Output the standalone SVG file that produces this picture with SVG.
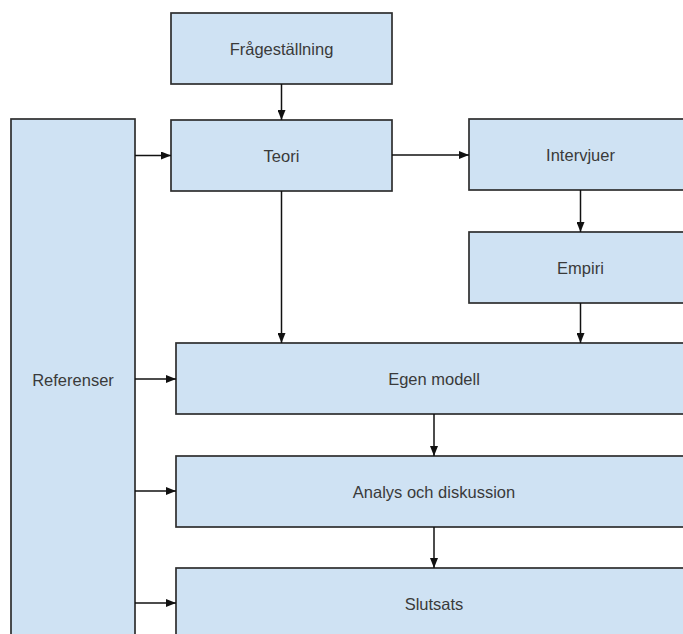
<svg xmlns="http://www.w3.org/2000/svg" width="683" height="634" viewBox="0 0 683 634">
  <style>
    .box { fill: #cfe2f3; stroke: #2e2e2e; stroke-width: 1.7; }
    .label { font-family: "Liberation Sans", Arial, sans-serif; font-size: 16.5px; fill: #3a3a3a; text-anchor: middle; dominant-baseline: central; }
    .link { fill: none; stroke: #111111; stroke-width: 1.5; marker-end: url(#arrow); }
  </style>
  <defs>
    <marker id="arrow" markerUnits="userSpaceOnUse" markerWidth="10" markerHeight="8" refX="10" refY="4" orient="auto">
      <path d="M0,0 L10,4 L0,8 z" fill="#111111"/>
    </marker>
  </defs>
  <rect width="683" height="634" fill="#ffffff"/>

  <g id="fragestallning">
    <rect class="box" x="171" y="13" width="221" height="71"/>
    <text class="label" x="281.5" y="49">Frågeställning</text>
  </g>
  <g id="teori">
    <rect class="box" x="171" y="120" width="221" height="71"/>
    <text class="label" x="281.5" y="155.5">Teori</text>
  </g>
  <g id="intervjuer">
    <rect class="box" x="469" y="119" width="223" height="71"/>
    <text class="label" x="580.5" y="155">Intervjuer</text>
  </g>
  <g id="empiri">
    <rect class="box" x="469" y="232" width="223" height="71"/>
    <text class="label" x="580.5" y="268">Empiri</text>
  </g>
  <g id="referenser">
    <rect class="box" x="11" y="119" width="124" height="530"/>
    <text class="label" x="73" y="380">Referenser</text>
  </g>
  <g id="egen-modell">
    <rect class="box" x="176" y="343" width="516" height="71"/>
    <text class="label" x="434" y="379">Egen modell</text>
  </g>
  <g id="analys">
    <rect class="box" x="176" y="456" width="516" height="71"/>
    <text class="label" x="434" y="492">Analys och diskussion</text>
  </g>
  <g id="slutsats">
    <rect class="box" x="176" y="568" width="516" height="80"/>
    <text class="label" x="434" y="604">Slutsats</text>
  </g>

  <g id="connectors">
    <line class="link" x1="281.5" y1="84" x2="281.5" y2="120"/>
    <line class="link" x1="135" y1="155.5" x2="171" y2="155.5"/>
    <line class="link" x1="392" y1="155" x2="469" y2="155"/>
    <line class="link" x1="580.5" y1="190" x2="580.5" y2="232"/>
    <line class="link" x1="281.5" y1="191" x2="281.5" y2="343"/>
    <line class="link" x1="580.5" y1="303" x2="580.5" y2="343"/>
    <line class="link" x1="135" y1="379" x2="176" y2="379"/>
    <line class="link" x1="434" y1="414" x2="434" y2="456"/>
    <line class="link" x1="135" y1="491" x2="176" y2="491"/>
    <line class="link" x1="434" y1="527" x2="434" y2="568"/>
    <line class="link" x1="135" y1="603" x2="176" y2="603"/>
  </g>
</svg>
